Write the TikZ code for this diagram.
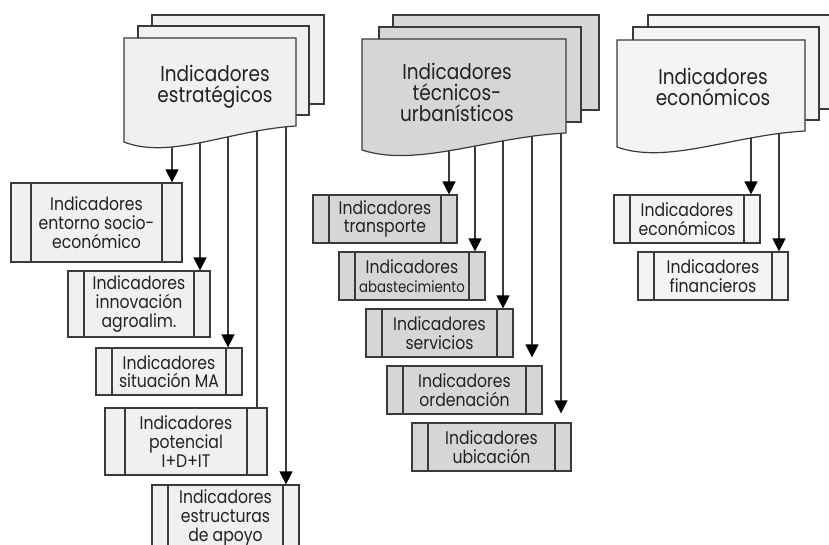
\documentclass[tikz,border=0pt]{standalone}
\usepackage{fontspec}
\setmainfont{Poppins}[FakeStretch=0.86]
\usetikzlibrary{arrows.meta,calc}
\definecolor{lnc}{HTML}{3A3A3A}
\definecolor{txt}{HTML}{222222}
\definecolor{fa}{HTML}{EFF0F1}
\definecolor{fb}{HTML}{D5D6D8}
\definecolor{fc}{HTML}{F4F4F4}
\tikzset{
  ibox/.style={draw=lnc, line width=1.2pt, fill=fa, inner sep=0pt, align=center,
    font=\fontsize{18.2}{18.7}\selectfont, text=txt,
    path picture={\draw[lnc, line width=1.2pt]
      ([xshift=#1pt]path picture bounding box.north west) -- ([xshift=#1pt]path picture bounding box.south west)
      ([xshift=-#1pt]path picture bounding box.north east) -- ([xshift=-#1pt]path picture bounding box.south east);}},
  ibox/.default=16,
  sheet/.style={draw=lnc, line width=1.2pt},
  ttl/.style={align=center, font=\fontsize{21.5}{21}\selectfont, text=txt, inner sep=0pt},
  conn/.style={draw=lnc, line width=1.2pt},
  arr/.style={conn, -{Triangle[width=13pt,length=13pt,color=black]}},
}
\newcommand\mydocfront[6]{%
  \filldraw[sheet, fill=#6] (#1,#3) -- (#2,#3) -- (#2,#4)
    .. controls ({#1+0.616*(#2-#1)},{#4+4}) and ({#1+0.267*(#2-#1)},{#5+18}) .. (#1,#5) -- cycle;}
\begin{document}
\begin{tikzpicture}[x=1pt,y=-1pt]
\useasboundingbox (0,0) rectangle (829,544);
\clip (0,0) rectangle (829,544);
% ---------- boxes: stack 1
\node[ibox=20, minimum width=171pt, minimum height=79pt] (a1) at (96.5,222.5) {Indicadores\\entorno socio-\\económico};
\node[ibox, minimum width=142pt, minimum height=66pt] (a2) at (139,304) {Indicadores\\innovación\\agroalim.};
\node[ibox, minimum width=146pt, minimum height=47pt] (a3) at (169,371.5) {Indicadores\\situación MA};
\node[ibox=20, minimum width=162pt, minimum height=67pt] (a4) at (186,441.5) {Indicadores\\potencial\\I+D+IT};
\node[ibox, minimum width=147pt, minimum height=66pt] (a5) at (225.5,518) {Indicadores\\estructuras\\de apoyo};
% ---------- boxes: stack 2
\node[ibox, fill=fb, minimum width=144pt, minimum height=48pt] (b1) at (385,219) {Indicadores\\transporte};
\node[ibox, fill=fb, minimum width=146pt, minimum height=48pt] (b2) at (412,276) {Indicadores\\{\fontsize{15.5}{16}\selectfont abastecimiento}};
\node[ibox, fill=fb, minimum width=147pt, minimum height=48pt] (b3) at (439.5,333) {Indicadores\\servicios};
\node[ibox, fill=fb, minimum width=155pt, minimum height=48pt] (b4) at (464.5,390) {Indicadores\\ordenación};
\node[ibox, fill=fb, minimum width=159pt, minimum height=48pt] (b5) at (491.5,447) {Indicadores\\ubicación};
% ---------- boxes: stack 3
\node[ibox, fill=fc, minimum width=146pt, minimum height=48pt] (c1) at (687,219) {Indicadores\\económicos};
\node[ibox, fill=fc, minimum width=150pt, minimum height=48pt] (c2) at (713,276) {Indicadores\\financieros};
% ---------- connector start points
\coordinate (a1s) at (172,120);
\coordinate (a2s) at (200,120);
\coordinate (a3s) at (228,120);
\coordinate (a4s) at (257,120);
\coordinate (a5s) at (286,120);
\coordinate (b1s) at (449,125);
\coordinate (b2s) at (475,125);
\coordinate (b3s) at (503,125);
\coordinate (b4s) at (532,125);
\coordinate (b5s) at (561,125);
\coordinate (c1s) at (751,125);
\coordinate (c2s) at (779,125);
% ---------- connectors
\draw[arr] (a1s) -- (a1s |- a1.north);
\draw[arr] (a2s) -- (a2s |- a2.north);
\draw[arr] (a3s) -- (a3s |- a3.north);
\draw[conn] (a4s) -- (a4s |- a4.north);
\draw[arr] (a5s) -- (a5s |- a5.north);
\draw[arr] (b1s) -- (b1s |- b1.north);
\draw[arr] (b2s) -- (b2s |- b2.north);
\draw[arr] (b3s) -- (b3s |- b3.north);
\draw[arr] (b4s) -- ([yshift=8pt]b4s |- b4.north);
\draw[arr] (b5s) -- ([yshift=9pt]b5s |- b5.north);
\draw[arr] (c1s) -- (c1s |- c1.north);
\draw[arr] (c2s) -- (c2s |- c2.north);
% ---------- document stacks
\filldraw[sheet, fill=fa] (152,15) rectangle (324,104);
\filldraw[sheet, fill=fa] (138,26) rectangle (309,115);
\mydocfront{124}{296}{38}{126}{142}{fa}
\node[ttl] (t1) at (215,87) {Indicadores\\estratégicos};
\filldraw[sheet, fill=fb] (393,15) rectangle (599,110);
\filldraw[sheet, fill=fb] (379,27) rectangle (581,122);
\mydocfront{362}{566}{39}{133}{150}{fb}
\node[ttl] (t2) at (457,92) {Indicadores\\técnicos-\\urbanísticos};
\filldraw[sheet, fill=fc] (648,15) rectangle (845,109);
\filldraw[sheet, fill=fc] (633,27) rectangle (819,120);
\mydocfront{617}{805}{40}{131}{147}{fc}
\node[ttl] (t3) at (713,87) {Indicadores\\económicos};
\end{tikzpicture}
\end{document}
